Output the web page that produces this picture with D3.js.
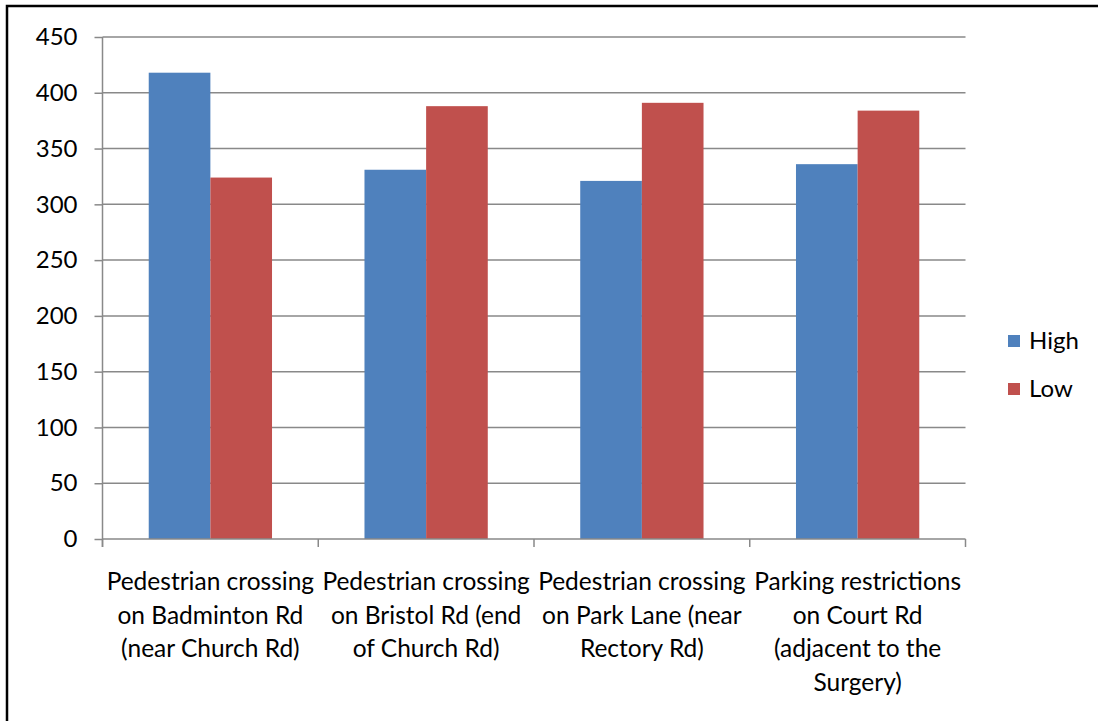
<!DOCTYPE html>
<html>
<head>
<meta charset="utf-8">
<script src="https://cdn.jsdelivr.net/npm/d3@7"></script>
<style>
  html, body { margin: 0; padding: 0; background: #fff; }
  svg { display: block; }
  text { font-family: Lato, "Open Sans", sans-serif; fill: #000; }
</style>
</head>
<body>
<svg id="chart" width="1098" height="721"></svg>
<script>
// Category labels, already split into the lines they wrap to
const categories = [
  ["Pedestrian crossing", "on Badminton Rd", "(near Church Rd)"],
  ["Pedestrian crossing", "on Bristol Rd (end", "of Church Rd)"],
  ["Pedestrian crossing", "on Park Lane (near", "Rectory Rd)"],
  ["Parking restrictions", "on Court Rd", "(adjacent to the", "Surgery)"]
];
const seriesNames = ["High", "Low"];
const highValues = [418, 331, 321, 336];
const lowValues = [324, 388, 391, 384];
const yTicks = [0, 50, 100, 150, 200, 250, 300, 350, 400, 450];
const colors = ["#4F81BD", "#C0504D"];

const svg = d3.select("#chart");
const plot = { left: 102.5, right: 965.5, top: 37, bottom: 539 };
const fontSize = 24.5;
const gridColor = "#898989";

// Outer frame (runs off the right and bottom edges)
svg.append("rect")
  .attr("x", 7).attr("y", 6)
  .attr("width", 1200).attr("height", 800)
  .attr("fill", "none").attr("stroke", "#000").attr("stroke-width", 2.5);

const x = d3.scaleBand()
  .domain(d3.range(categories.length))
  .range([plot.left, plot.right])
  .paddingInner(0).paddingOuter(0);

const y = d3.scaleLinear()
  .domain([0, 450])
  .range([plot.bottom, plot.top]);

// Horizontal gridlines
svg.append("g")
  .selectAll("line")
  .data(yTicks.filter(d => d > 0))
  .join("line")
  .attr("x1", plot.left).attr("x2", plot.right)
  .attr("y1", d => y(d)).attr("y2", d => y(d))
  .attr("stroke", gridColor).attr("stroke-width", 1.5);

// Bars: two series side by side, Excel-style 150% gap
const barW = x.bandwidth() / 3.5;
const data = categories.map((c, i) => ({ i, values: [highValues[i], lowValues[i]] }));
const groups = svg.append("g").selectAll("g")
  .data(data)
  .join("g");
groups.selectAll("rect")
  .data(d => d.values.map((v, s) => ({ i: d.i, s, v })))
  .join("rect")
  .attr("x", d => x(d.i) + x.bandwidth() / 2 - barW + d.s * barW)
  .attr("y", d => y(d.v))
  .attr("width", barW)
  .attr("height", d => plot.bottom - y(d.v))
  .attr("fill", d => colors[d.s]);

// Y axis
const yAxis = svg.append("g")
  .attr("transform", `translate(${plot.left},0)`)
  .call(d3.axisLeft(y).tickValues(yTicks).tickSize(8).tickPadding(17).tickSizeOuter(0));
yAxis.select(".domain").attr("stroke", gridColor).attr("stroke-width", 1.5)
  .attr("d", `M0,${plot.top}V${plot.bottom + 8}`);
yAxis.selectAll(".tick line").attr("stroke", gridColor).attr("stroke-width", 1.5);
yAxis.selectAll(".tick text")
  .style("font-family", "Lato, sans-serif")
  .style("font-size", "24px")
  .attr("fill", "#000");

// X axis: ticks sit on the category boundaries
const xBounds = d3.range(categories.length + 1).map(i => plot.left + i * x.bandwidth());
const xAxis = svg.append("g");
xAxis.append("line")
  .attr("x1", plot.left).attr("x2", plot.right)
  .attr("y1", plot.bottom).attr("y2", plot.bottom)
  .attr("stroke", gridColor).attr("stroke-width", 1.5);
xAxis.selectAll("line.tk")
  .data(xBounds)
  .join("line")
  .attr("class", "tk")
  .attr("x1", d => d).attr("x2", d => d)
  .attr("y1", plot.bottom).attr("y2", plot.bottom + 8)
  .attr("stroke", gridColor).attr("stroke-width", 1.5);

const lineGap = 33.5;
xAxis.selectAll("text.cat")
  .data(categories)
  .join("text")
  .attr("class", "cat")
  .attr("text-anchor", "middle")
  .style("font-size", fontSize + "px")
  .each(function (lines, i) {
    const t = d3.select(this);
    lines.forEach((ln, k) => {
      t.append("tspan")
        .attr("x", x(i) + x.bandwidth() / 2)
        .attr("y", 590 + k * lineGap)
        .text(ln);
    });
  });

// Legend
const legend = svg.append("g");
seriesNames.forEach((name, s) => {
  const cy = 341 + s * 48;
  legend.append("rect")
    .attr("x", 1008).attr("y", cy - 6)
    .attr("width", 12).attr("height", 12)
    .attr("fill", colors[s]);
  legend.append("text")
    .attr("x", 1029).attr("y", cy)
    .attr("dy", "0.35em")
    .style("font-size", "24px")
    .text(name);
});
</script>
</body>
</html>
